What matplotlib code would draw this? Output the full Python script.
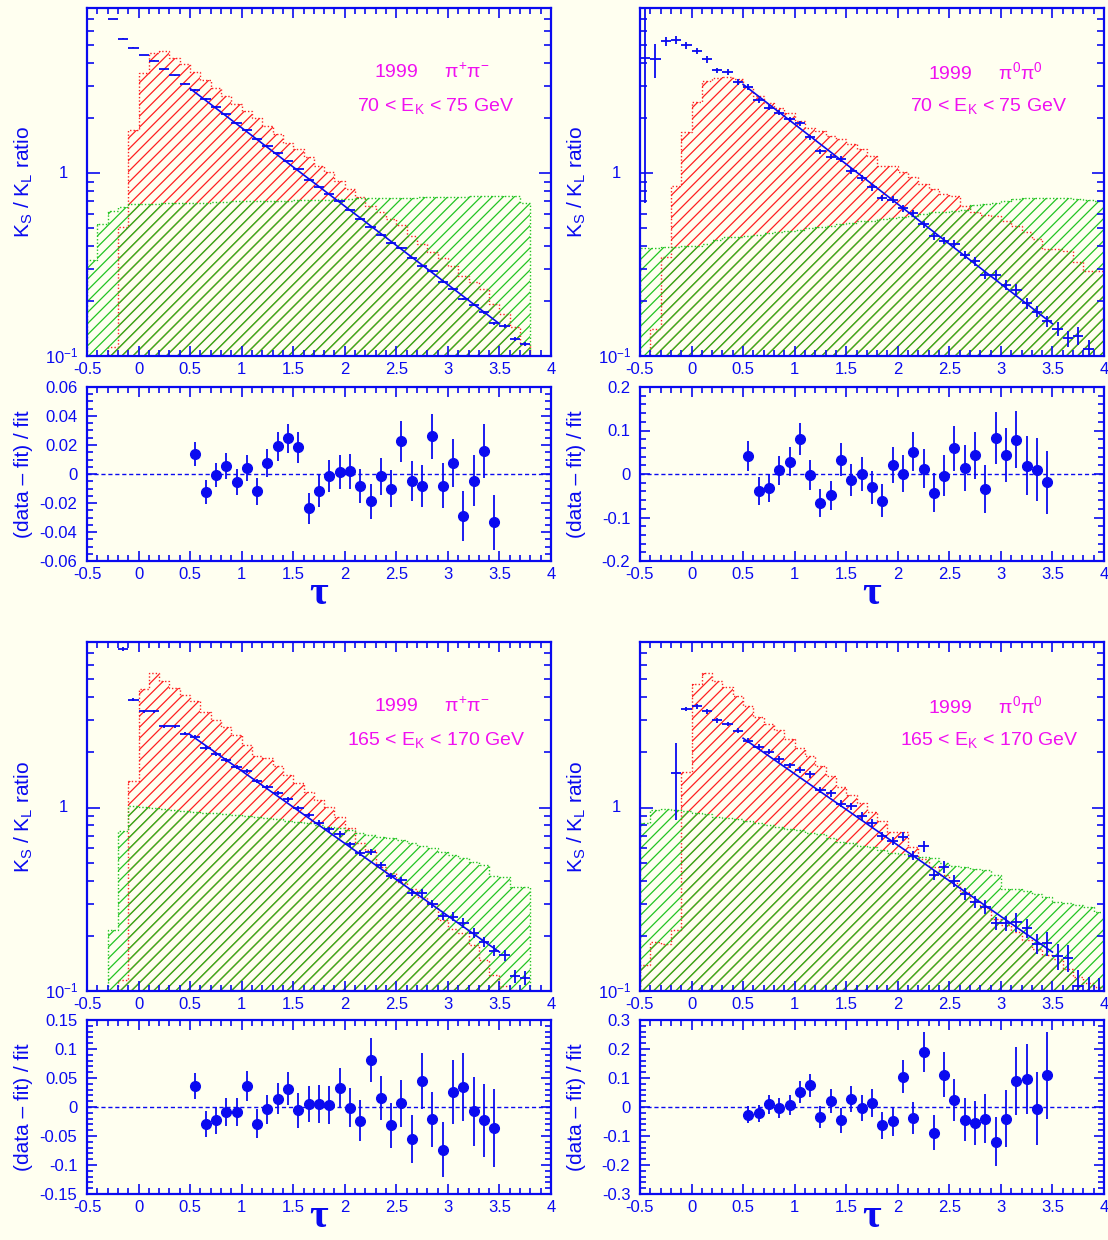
import numpy as np
import matplotlib
matplotlib.use("Agg")
import matplotlib.pyplot as plt
from matplotlib.ticker import MultipleLocator, LogLocator, NullFormatter, FuncFormatter

plt.rcParams["font.family"] = ["Liberation Sans", "DejaVu Sans"]
plt.rcParams["mathtext.fontset"] = "custom"
plt.rcParams["mathtext.rm"] = "Liberation Sans"
plt.rcParams["mathtext.bf"] = "Liberation Serif:bold"
plt.rcParams["mathtext.default"] = "regular"
plt.rcParams["axes.unicode_minus"] = False
plt.rcParams["hatch.linewidth"] = 0.9

BG = "#fffff0"
BLUE = "#0a0af0"
MAGENTA = "#f010f0"
RED = "#ff2020"
GREEN = "#22c422"

# ---------- 1999 pi+pi-, 70 < E_K < 75 GeV ----------
pipi70_tau0 = -0.25
pipi70_ratio = [6.98, 5.43, 4.85, 4.42, 4.13, 3.69, 3.42, 3.08,
                2.85, 2.54, 2.30, 2.10, 1.89, 1.72, 1.53, 1.41, 1.29, 1.17,
                1.05, 0.92, 0.84, 0.77, 0.70, 0.63, 0.56, 0.51, 0.46, 0.415,
                0.39, 0.344, 0.31, 0.29, 0.255, 0.233, 0.205, 0.19, 0.174, 0.151,
                0.146, 0.124, 0.116]
pipi70_err_pre = [0.004, 0.004, 0.004, 0.004, 0.005, 0.005, 0.006, 0.007]
pipi70_err_post = [0.02, 0.022, 0.025]
pipi70_ks0 = -0.3
pipi70_ks = [0.112, 0.505, 1.72, 3.51, 4.55, 4.65, 4.27, 3.93, 3.57, 3.22,
             2.93, 2.64, 2.38, 2.19, 2.01, 1.81, 1.63, 1.47, 1.35, 1.22,
             1.10, 1.01, 0.91, 0.82, 0.74, 0.66, 0.61, 0.56, 0.52, 0.455,
             0.41, 0.37, 0.343, 0.31, 0.275, 0.255, 0.233, 0.193, 0.17, 0.144,
             0.117]
pipi70_kl0 = -0.5
pipi70_kl = [0.333, 0.527, 0.623, 0.65, 0.68,
             0.68, 0.68, 0.685, 0.685, 0.69, 0.69, 0.69, 0.695, 0.695, 0.70,
             0.70, 0.70, 0.70, 0.705, 0.705, 0.71, 0.71, 0.71, 0.715, 0.72,
             0.725, 0.73, 0.73, 0.73, 0.735, 0.735, 0.735, 0.74, 0.74, 0.74,
             0.745, 0.745, 0.75, 0.75, 0.75, 0.75, 0.75, 0.685]
pipi70_fit = [2.90, 0.150]
pipi70_resid = [0.0139, -0.0123, -0.0007, 0.0053, -0.0053, 0.004, -0.012, 0.0077, 0.019, 0.0246,
                0.0183, -0.0237, -0.0116, -0.0016, 0.0014, 0.0019, -0.0081, -0.0188, -0.0016, -0.01,
                0.0225, -0.0049, -0.0081, 0.026, -0.0081, 0.0077, -0.029, -0.0046, 0.0158, -0.0332]
pipi70_resid_err = [0.0081, 0.0085, 0.0085, 0.009, 0.009, 0.009, 0.0093, 0.0095, 0.0098, 0.0102,
                    0.0105, 0.0108, 0.011, 0.011, 0.0115, 0.012, 0.0118, 0.012, 0.0127, 0.013,
                    0.014, 0.014, 0.0145, 0.0155, 0.0155, 0.0165, 0.017, 0.0177, 0.0187, 0.019]

# ---------- 1999 pi0pi0, 70 < E_K < 75 GeV ----------
pi0_70_tau0 = -0.45
pi0_70_ratio = [4.28, 4.19, 5.27, 5.34, 5.01, 4.65, 4.19, 3.65, 3.57, 3.15,
                2.97, 2.51, 2.28, 2.14, 1.97, 1.87, 1.57, 1.32, 1.23, 1.19,
                1.03, 0.946, 0.835, 0.73, 0.716, 0.641, 0.602, 0.527, 0.452, 0.428,
                0.41, 0.357, 0.33, 0.278, 0.278, 0.245, 0.231, 0.195, 0.175, 0.155,
                0.141, 0.125, 0.129, 0.109]
pi0_70_err_pre = [0.84, 0.21, 0.06, 0.05, 0.045, 0.04, 0.04, 0.035, 0.035, 0.035]
pi0_70_err_post = [0.09, 0.10, 0.11, 0.12]
pi0_70_ks0 = -0.4
pi0_70_ks = [0.141, 0.347, 0.846, 1.67, 2.45, 3.19, 3.32, 3.37, 3.26, 2.97,
             2.64, 2.41, 2.28, 2.14, 1.93, 1.77, 1.70, 1.60, 1.53, 1.44,
             1.35, 1.24, 1.10, 1.10, 1.01, 0.947, 0.871, 0.818, 0.768, 0.752,
             0.66, 0.61, 0.59, 0.585, 0.55, 0.516, 0.475, 0.436, 0.385, 0.385,
             0.377, 0.326, 0.293, 0.29]
pi0_70_kl0 = -0.5
pi0_70_kl = [0.388, 0.388, 0.395, 0.395, 0.40, 0.40, 0.41, 0.43, 0.445, 0.445,
             0.455, 0.46, 0.47, 0.475, 0.48, 0.49, 0.50, 0.51, 0.515, 0.525,
             0.535, 0.545, 0.55, 0.56, 0.565, 0.575, 0.585, 0.60, 0.61, 0.615,
             0.62, 0.625, 0.67, 0.68, 0.69, 0.70, 0.72, 0.73, 0.73, 0.735,
             0.735, 0.73, 0.725, 0.71, 0.70]
pi0_70_fit = [3.06, 0.150]
pi0_70_resid = [0.041, -0.039, -0.032, 0.0085, 0.0286, 0.081, -0.002, -0.0665, -0.049, 0.0325,
                -0.013, 0.0008, -0.031, -0.061, 0.021, 0.001, 0.051, 0.0124, -0.0426, -0.004,
                0.0588, 0.0147, 0.0433, -0.0348, 0.0828, 0.0441, 0.079, 0.0186, 0.01, -0.0193]
pi0_70_resid_err = [0.035, 0.032, 0.032, 0.034, 0.034, 0.037, 0.035, 0.033, 0.034, 0.038,
                    0.037, 0.039, 0.038, 0.038, 0.042, 0.042, 0.045, 0.044, 0.045, 0.047,
                    0.051, 0.053, 0.054, 0.055, 0.06, 0.062, 0.066, 0.068, 0.072, 0.073]

# ---------- 1999 pi+pi-, 165 < E_K < 170 GeV ----------
pipi165_tau0 = -0.15
pipi165_ratio = [7.33, 3.88, 3.35, 3.35, 2.77, 2.77, 2.53,
                 2.42, 2.11, 1.95, 1.81, 1.66, 1.59, 1.39, 1.29, 1.20, 1.11,
                 0.99, 0.912, 0.828, 0.762, 0.718, 0.631, 0.568, 0.575, 0.486, 0.425,
                 0.403, 0.344, 0.344, 0.298, 0.256, 0.254, 0.235, 0.208, 0.185, 0.166,
                 0.157, 0.12, 0.118]
pipi165_err_pre = [0.03, 0.015, 0.015, 0.015, 0.018, 0.018, 0.02]
pipi165_err_post = [0.07, 0.08, 0.09]
pipi165_ks0 = -0.2
pipi165_ks = [0.115, 1.39, 4.43, 5.42, 4.88, 4.49, 4.13, 3.80, 3.31, 3.01,
              2.74, 2.50, 2.20, 1.92, 1.86, 1.68, 1.51, 1.36, 1.21, 1.10,
              1.01, 0.893, 0.771, 0.638, 0.587, 0.476, 0.438, 0.394, 0.362, 0.326,
              0.300, 0.243, 0.219, 0.206, 0.178, 0.147, 0.122, 0.106, 0.101]
pipi165_kl0 = -0.3
pipi165_kl = [0.215, 0.746, 1.02,
              1.013, 0.992, 0.979, 0.971, 0.959, 0.951, 0.939, 0.931, 0.920, 0.908,
              0.900, 0.886, 0.874, 0.864, 0.849, 0.835, 0.821, 0.804, 0.787, 0.771,
              0.755, 0.724, 0.709, 0.694, 0.680, 0.666, 0.638, 0.618, 0.600, 0.575,
              0.551, 0.529, 0.507, 0.486, 0.424, 0.420, 0.367, 0.367]
pipi165_fit = [2.50, 0.163]
pipi165_resid = [0.0358, -0.030, -0.023, -0.0087, -0.0087, 0.0358, -0.0288, -0.004, 0.0144, 0.0317,
                 -0.0058, 0.0052, 0.0052, 0.0029, 0.0329, -0.0012, -0.0237, 0.0808, 0.0156, -0.0317,
                 0.0063, -0.0548, 0.0444, -0.0213, -0.0733, 0.026, 0.0346, -0.0075, -0.0231, -0.0363]
pipi165_resid_err = [0.0225, 0.0225, 0.023, 0.024, 0.024, 0.026, 0.025, 0.025, 0.027, 0.029,
                     0.03, 0.031, 0.032, 0.033, 0.034, 0.034, 0.035, 0.038, 0.038, 0.039,
                     0.041, 0.041, 0.048, 0.047, 0.048, 0.055, 0.058, 0.059, 0.063, 0.067]

# ---------- 1999 pi0pi0, 165 < E_K < 170 GeV ----------
pi0_165_tau0 = -0.15
pi0_165_ratio = [1.55, 3.45, 3.56, 3.35, 2.99, 2.86, 2.63,
                 2.32, 2.15, 2.02, 1.84, 1.70, 1.61, 1.52, 1.25, 1.20, 1.05,
                 1.02, 0.90, 0.828, 0.70, 0.658, 0.695, 0.547, 0.618, 0.429, 0.476,
                 0.399, 0.340, 0.306, 0.288, 0.235, 0.235, 0.238, 0.221, 0.181, 0.183,
                 0.155, 0.152, 0.107, 0.092, 0.09]
pi0_165_err_pre = [0.45, 0.03, 0.03, 0.03, 0.03, 0.03, 0.03]
pi0_165_err_post = [0.16, 0.17, 0.22, 0.3, 0.3]
pi0_165_ks0 = -0.5
pi0_165_ks = [0.138, 0.185, 0.181, 0.216, 1.57,
              4.74, 5.42, 4.88, 4.55, 4.08, 3.56, 3.12, 2.87, 2.64, 2.36,
              2.11, 1.92, 1.68, 1.48, 1.30, 1.17, 1.06, 0.95, 0.849, 0.74,
              0.74, 0.607, 0.522, 0.472, 0.429, 0.389, 0.348, 0.310, 0.282, 0.248,
              0.229, 0.210, 0.189, 0.170, 0.157, 0.150, 0.132, 0.119, 0.110, 0.105]
pi0_165_kl0 = -0.5
pi0_165_kl = [0.821, 0.971, 0.979, 0.971, 0.963,
              0.939, 0.924, 0.893, 0.874, 0.864, 0.849, 0.821, 0.804, 0.781, 0.768,
              0.755, 0.724, 0.718, 0.680, 0.652, 0.638, 0.617, 0.607, 0.587, 0.568,
              0.558, 0.540, 0.535, 0.529, 0.496, 0.480, 0.472, 0.460, 0.456, 0.429,
              0.362, 0.358, 0.352, 0.340, 0.326, 0.306, 0.303, 0.294, 0.288, 0.270]
pi0_165_fit = [2.39, 0.163]
pi0_165_resid = [-0.0265, -0.022, 0.0092, -0.0023, 0.008, 0.052, 0.075, -0.0346, 0.0196, -0.046,
                 0.0288, -0.0035, 0.015, -0.0635, -0.0496, 0.105, -0.038, 0.189, -0.0888, 0.111,
                 0.023, -0.0438, -0.0554, -0.04, -0.119, -0.04, 0.0888, 0.0958, -0.0058, 0.11]
pi0_165_resid_err = [0.03, 0.03, 0.033, 0.034, 0.035, 0.037, 0.04, 0.037, 0.042, 0.042,
                     0.045, 0.046, 0.048, 0.047, 0.05, 0.058, 0.056, 0.07, 0.06, 0.077,
                     0.072, 0.075, 0.076, 0.085, 0.083, 0.097, 0.118, 0.12, 0.125, 0.15]

fit_tau = [0.5, 3.5]
resid_tau0 = 0.55
bin_width = 0.1

panels = [
    dict(col=0, row=0, channel="1999     π$^{+}$π$^{-}$", energy="70 < E$_K$ < 75 GeV",
         tau0=pipi70_tau0, ratio=pipi70_ratio, err_pre=pipi70_err_pre, err_post=pipi70_err_post,
         ks0=pipi70_ks0, ks=pipi70_ks, kl0=pipi70_kl0, kl=pipi70_kl, fit=pipi70_fit,
         resid=pipi70_resid, resid_err=pipi70_resid_err, rlim=0.06, rmaj=0.02, rmin=0.005),
    dict(col=1, row=0, channel="1999     π$^{0}$π$^{0}$", energy="70 < E$_K$ < 75 GeV",
         tau0=pi0_70_tau0, ratio=pi0_70_ratio, err_pre=pi0_70_err_pre, err_post=pi0_70_err_post,
         ks0=pi0_70_ks0, ks=pi0_70_ks, kl0=pi0_70_kl0, kl=pi0_70_kl, fit=pi0_70_fit,
         resid=pi0_70_resid, resid_err=pi0_70_resid_err, rlim=0.2, rmaj=0.1, rmin=0.02),
    dict(col=0, row=1, channel="1999     π$^{+}$π$^{-}$", energy="165 < E$_K$ < 170 GeV",
         tau0=pipi165_tau0, ratio=pipi165_ratio, err_pre=pipi165_err_pre, err_post=pipi165_err_post,
         ks0=pipi165_ks0, ks=pipi165_ks, kl0=pipi165_kl0, kl=pipi165_kl, fit=pipi165_fit,
         resid=pipi165_resid, resid_err=pipi165_resid_err, rlim=0.15, rmaj=0.05, rmin=0.01),
    dict(col=1, row=1, channel="1999     π$^{0}$π$^{0}$", energy="165 < E$_K$ < 170 GeV",
         tau0=pi0_165_tau0, ratio=pi0_165_ratio, err_pre=pi0_165_err_pre, err_post=pi0_165_err_post,
         ks0=pi0_165_ks0, ks=pi0_165_ks, kl0=pi0_165_kl0, kl=pi0_165_kl, fit=pi0_165_fit,
         resid=pi0_165_resid, resid_err=pi0_165_resid_err, rlim=0.3, rmaj=0.1, rmin=0.02),
]

W, H = 1108, 1240
fig = plt.figure(figsize=(W / 100, H / 100), dpi=100, facecolor=BG)

col_x = [87, 640]
ax_w = 464
row_y = [(8, 356, 387, 561), (642, 991, 1020, 1194)]
# baseline of the tau label below each residual panel (axes fraction)
tau_label_y = [-0.245, -0.19]


def add_px_axes(x0, y0, x1, y1):
    return fig.add_axes([x0 / W, 1 - y1 / H, (x1 - x0) / W, (y1 - y0) / H])


def tick_label(v, pos):
    return f"{round(v, 3) + 0:g}"


def style_axes(ax):
    ax.set_facecolor(BG)
    for s in ax.spines.values():
        s.set_color(BLUE)
        s.set_linewidth(1.6)
    ax.tick_params(which="both", direction="in", top=True, right=True,
                   colors=BLUE, labelsize=12, width=1.2)
    ax.tick_params(which="major", length=7, pad=4)
    ax.tick_params(which="minor", length=4)
    ax.set_xlim(-0.5, 4)
    ax.xaxis.set_major_locator(MultipleLocator(0.5))
    ax.xaxis.set_minor_locator(MultipleLocator(0.1))
    ax.xaxis.set_major_formatter(FuncFormatter(tick_label))


def draw_hist(ax, start, values, color):
    edges = start + bin_width * np.arange(len(values) + 1)
    ax.stairs(values, edges, baseline=0.01, fill=True, facecolor="none",
              edgecolor=color, hatch="///", linewidth=0)
    ax.stairs(values, edges, baseline=0.01, color=color, linewidth=1.0,
              linestyle=(0, (1, 1.5)))


for p in panels:
    x0 = col_x[p["col"]]
    top0, top1, bot0, bot1 = row_y[p["row"]]
    ax = add_px_axes(x0, top0, x0 + ax_w, top1)
    axr = add_px_axes(x0, bot0, x0 + ax_w, bot1)

    # upper panel: K_S / K_L ratio with MC shapes
    style_axes(ax)
    ax.set_yscale("log")
    ax.set_ylim(0.1, 8)
    ax.yaxis.set_major_locator(LogLocator(base=10, numticks=5))
    ax.yaxis.set_minor_locator(LogLocator(base=10, subs=np.arange(2, 10), numticks=20))
    ax.yaxis.set_major_formatter(NullFormatter())
    ax.yaxis.set_minor_formatter(NullFormatter())
    ax.tick_params(axis="y", which="major", length=9)
    ax.tick_params(axis="y", which="minor", length=5)

    draw_hist(ax, p["ks0"], p["ks"], RED)
    draw_hist(ax, p["kl0"], p["kl"], GREEN)

    ratio = np.array(p["ratio"])
    tau = p["tau0"] + bin_width * np.arange(len(ratio))
    rel_err = np.r_[p["err_pre"], p["resid_err"], p["err_post"]]
    ax.errorbar(tau, ratio, xerr=bin_width / 2, yerr=ratio * rel_err, fmt="none",
                ecolor=BLUE, elinewidth=1.3, capsize=0, zorder=4)
    ax.plot(fit_tau, p["fit"], color=BLUE, linewidth=1.2, zorder=5)

    ytr = ax.get_yaxis_transform()
    ax.text(-0.041, 1, "1", transform=ytr, ha="right", va="center", fontsize=12, color=BLUE)
    ax.text(-0.019, 0.1, "$10^{-1}$", transform=ytr, ha="right", va="center",
            fontsize=12, color=BLUE)
    ax.set_ylabel("K$_S$ / K$_L$ ratio", fontsize=15, color=BLUE)
    ax.yaxis.set_label_coords(-0.112, 0.5)

    ax.text(0.744, 0.816, p["channel"], transform=ax.transAxes, ha="center", va="center",
            fontsize=14, color=MAGENTA)
    ax.text(0.752, 0.718, p["energy"], transform=ax.transAxes, ha="center", va="center",
            fontsize=14, color=MAGENTA)

    # lower panel: residuals of the exponential fit
    style_axes(axr)
    lim = p["rlim"]
    axr.set_ylim(-lim, lim)
    axr.yaxis.set_major_locator(MultipleLocator(p["rmaj"]))
    axr.yaxis.set_minor_locator(MultipleLocator(p["rmin"]))
    axr.yaxis.set_major_formatter(FuncFormatter(tick_label))
    axr.tick_params(axis="y", which="major", pad=7)
    axr.axhline(0, color=BLUE, linewidth=1.0, linestyle=(0, (3, 2)))
    resid_tau = resid_tau0 + bin_width * np.arange(len(p["resid"]))
    axr.errorbar(resid_tau, p["resid"], yerr=p["resid_err"], fmt="o", ms=7,
                 color=BLUE, ecolor=BLUE, elinewidth=1.3, capsize=0, zorder=4)
    axr.set_ylabel("(data – fit) / fit", fontsize=15, color=BLUE)
    axr.yaxis.set_label_coords(-0.116, 0.5)
    axr.text(0.5, tau_label_y[p["row"]], r"$\mathbf{\tau}$", transform=axr.transAxes,
             ha="center", va="baseline", fontsize=29, color=BLUE)

fig.savefig("out.png", dpi=100, facecolor=BG)
